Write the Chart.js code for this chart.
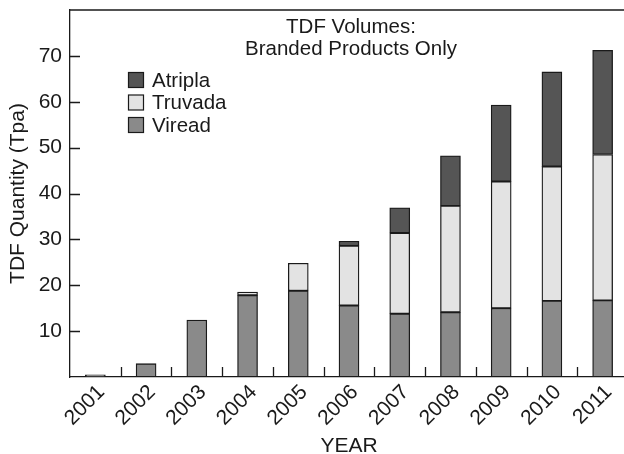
<!DOCTYPE html>
<html>
<head>
<meta charset="utf-8">
<script src="https://cdn.jsdelivr.net/npm/chart.js@4.4.1/dist/chart.umd.min.js"></script>
<style>
  html, body { margin: 0; padding: 0; background: #fff; overflow: hidden; }
  #wrap { position: relative; width: 628px; height: 454px; }
</style>
</head>
<body>
<div id="wrap"><canvas id="chart" width="628" height="454"></canvas></div>
<script>
// ── data ─────────────────────────────────────────────────────────────────────
const years = ['2001', '2002', '2003', '2004', '2005', '2006', '2007', '2008', '2009', '2010', '2011'];
const viread = [0.5, 2.9, 12.4, 17.8, 18.8, 15.6, 13.8, 14.1, 15.0, 16.6, 16.7];
const truvada = [0, 0, 0, 0.7, 6.0, 13.0, 17.6, 23.2, 27.6, 29.3, 31.8];
const atripla = [0, 0, 0, 0, 0, 1.0, 5.5, 10.9, 16.7, 20.6, 22.7];
const yTicks = [10, 20, 30, 40, 50, 60, 70];
const titleLines = ['TDF Volumes:', 'Branded Products Only'];

const FONT = '"Liberation Sans", Arial, sans-serif';
const INK = '#1a1a1a';

// inward tick marks, top frame line, inline title and legend
const decorations = {
  id: 'decorations',
  afterDraw(chart) {
    const { ctx, chartArea: a, scales } = chart;
    const x = scales.x, y = scales.y;
    ctx.save();
    ctx.strokeStyle = INK;
    ctx.lineWidth = 1.3;
    ctx.beginPath();
    ctx.moveTo(a.left, a.top);
    ctx.lineTo(a.right, a.top);
    yTicks.forEach((v) => {
      const py = Math.round(y.getPixelForValue(v)) + 0.5;
      ctx.moveTo(a.left, py);
      ctx.lineTo(a.left + 10, py);
    });
    for (let i = 1; i < years.length; i++) {
      const px = Math.round((x.getPixelForValue(i - 1) + x.getPixelForValue(i)) / 2) + 0.5;
      ctx.moveTo(px, a.bottom);
      ctx.lineTo(px, a.bottom - 10);
    }
    ctx.stroke();

    // title
    ctx.fillStyle = INK;
    ctx.font = `20.5px ${FONT}`;
    ctx.textAlign = 'center';
    ctx.textBaseline = 'middle';
    titleLines.forEach((t, i) => ctx.fillText(t, 351, 27 + i * 22));

    // legend (reverse of stacking order)
    const items = chart.data.datasets.slice().reverse();
    ctx.textAlign = 'left';
    ctx.font = `20.5px ${FONT}`;
    items.forEach((ds, i) => {
      const cy = 80 + i * 22.5;
      ctx.fillStyle = ds.backgroundColor;
      ctx.fillRect(128.5, cy - 7.5, 15, 15);
      ctx.lineWidth = 1.2;
      ctx.strokeRect(128.5, cy - 7.5, 15, 15);
      ctx.fillStyle = INK;
      ctx.fillText(ds.label, 152, cy + 1);
    });
    ctx.restore();
  },
};

const barStyle = { borderColor: INK, borderWidth: 1.3, barThickness: 20, borderSkipped: false };

new Chart(document.getElementById('chart'), {
  type: 'bar',
  data: {
    labels: years,
    datasets: [
      { label: 'Viread', data: viread, backgroundColor: '#8a8a8a', ...barStyle },
      { label: 'Truvada', data: truvada, backgroundColor: '#e3e3e3', ...barStyle },
      { label: 'Atripla', data: atripla, backgroundColor: '#555555', ...barStyle },
    ],
  },
  options: {
    responsive: false,
    animation: false,
    layout: { padding: { top: 10, right: 0, left: 0, bottom: 0 } },
    plugins: { legend: { display: false }, tooltip: { enabled: false } },
    scales: {
      x: {
        stacked: true,
        grid: { display: false, drawTicks: false },
        border: { display: true, color: INK, width: 1.3 },
        ticks: {
          color: INK,
          font: { family: FONT, size: 21 },
          minRotation: 45,
          maxRotation: 45,
          padding: 3,
          labelOffset: 6,
          autoSkip: false,
        },
        title: {
          display: true,
          text: 'YEAR',
          color: INK,
          font: { family: FONT, size: 21 },
          padding: { top: 0, bottom: -5 },
        },
        afterFit: (s) => { s.height = 77; s.paddingLeft = 0; s.paddingRight = 0; },
      },
      y: {
        stacked: true,
        min: 0,
        max: 80,
        grid: { display: false, drawTicks: false },
        border: { display: true, color: INK, width: 1.3 },
        ticks: {
          stepSize: 10,
          color: INK,
          font: { family: FONT, size: 21 },
          padding: 8,
          callback: (v) => (yTicks.includes(v) ? String(v) : ''),
        },
        title: {
          display: true,
          text: 'TDF Quantity (Tpa)',
          color: INK,
          font: { family: FONT, size: 21 },
          padding: { top: 6, bottom: 0 },
        },
        afterFit: (s) => { s.width = 70; s.paddingTop = 0; s.paddingBottom = 0; },
      },
    },
  },
  plugins: [decorations],
});
</script>
</body>
</html>
